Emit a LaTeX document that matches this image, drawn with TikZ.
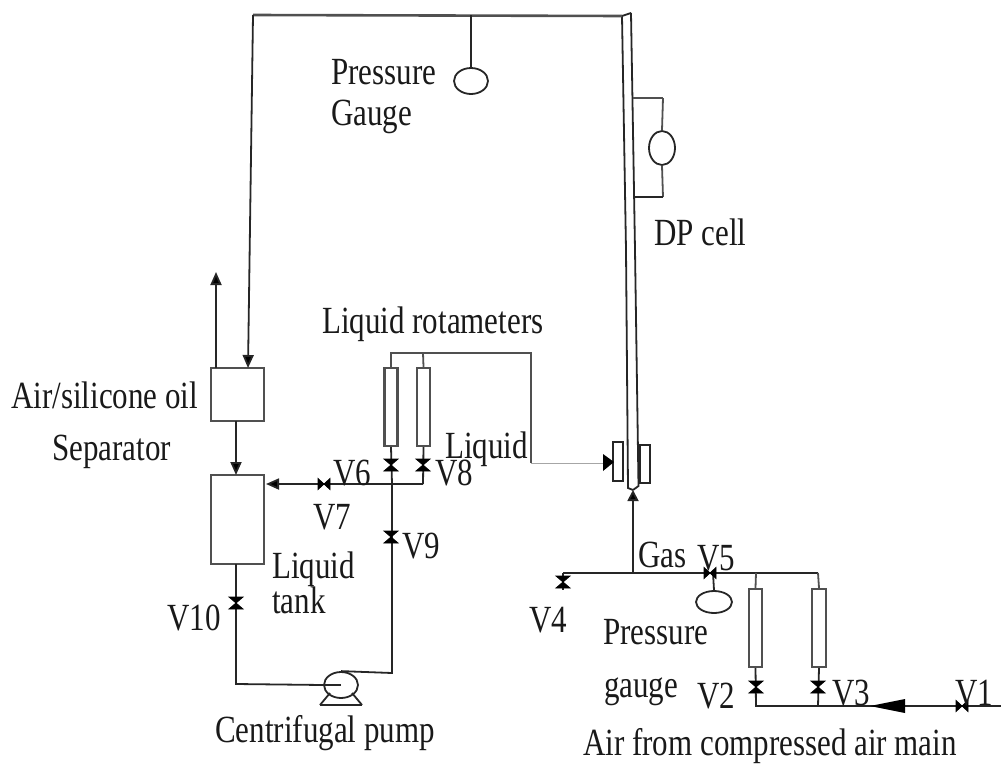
\documentclass[tikz,border=0pt]{standalone}
\usepackage{fontspec}
\setmainfont{Liberation Serif}
\usetikzlibrary{arrows.meta,shapes.geometric}
\definecolor{pipe}{HTML}{262626}
\definecolor{soft}{HTML}{505050}
\tikzset{
 x=1pt,y=-1pt,
 line/.style={draw=pipe,line width=1.8pt},
 softline/.style={draw=soft,line width=1.8pt},
 faint/.style={draw=black!35,line width=1pt},
 flow/.style={line,-{Triangle[length=13pt,width=11pt,fill=black]}},
 box/.style={draw=soft,line width=2.6pt,rectangle,inner sep=0pt},
 meter/.style={draw=soft,line width=2.2pt,rectangle,inner sep=0pt,minimum width=13pt,minimum height=78pt},
 oval/.style={draw=pipe,line width=1.8pt,ellipse,inner sep=0pt},
 lab/.style={font=\fontsize{31}{31}\selectfont,text=black!90,yscale=1.24,transform shape,inner sep=0pt,anchor=base west},
 valve/.style={fill=black,draw=black,line width=.8pt},
 pics/vvalve/.style={code={\path[valve](-7,-6)--(7,-6)--(-7,6)--(7,6)--cycle;}},
 pics/hvalve/.style={code={\path[valve](-6,-5.5)--(6,5.5)--(6,-5.5)--(-6,5.5)--cycle;}}
}
\begin{document}
\begin{tikzpicture}
\useasboundingbox (0,0) rectangle (1001,763);
% equipment
\node[box,minimum width=53pt,minimum height=53pt] (sep) at (237.5,394.5) {};
\node[box,minimum width=53pt,minimum height=89pt] (tank) at (237.5,519.5) {};
\node[meter] (rl1) at (391,407) {};
\node[meter] (rl2) at (423.5,407) {};
\node[meter,minimum width=13pt] (rg1) at (755.5,628) {};
\node[meter,minimum width=14pt] (rg2) at (819,628) {};
\node[oval,minimum width=34pt,minimum height=26pt] (pg1) at (471,81) {};
\node[oval,minimum width=36pt,minimum height=22pt] (pg2) at (714,602) {};
\node[oval,minimum width=26pt,minimum height=34pt] (dp) at (662,148) {};
\node[oval,minimum width=34pt,minimum height=26pt] (pump) at (341,685) {};
\node[box,draw=pipe,line width=1.8pt,minimum width=10pt,minimum height=39pt] (mixl) at (618,461.5) {};
\node[box,draw=pipe,line width=1.8pt,minimum width=10pt,minimum height=38pt] (mixr) at (645,464) {};
% junction coordinates
\coordinate (tl) at (253,15);
\coordinate (tr) at (622,16);
\coordinate (sepin) at (248,368);
\coordinate (vent) at (216,272);
\coordinate (ventb) at (216,368);
\coordinate (sepb) at (236,421);
\coordinate (tanktop) at (236,475);
\coordinate (tankb) at (236,564);
\coordinate (c1) at (236,684);
\coordinate (c2) at (392,673);
\coordinate (j1) at (392,484);
\coordinate (j2) at (423,484);
\coordinate (tankin) at (266,484);
\coordinate (rt1) at (391,353);
\coordinate (rt2) at (423,353);
\coordinate (rt3) at (531,353);
\coordinate (rt4) at (531,463);
\coordinate (mixa) at (614,462);
\coordinate (g0) at (563,573);
\coordinate (g1) at (633,573);
\coordinate (g2) at (756,573);
\coordinate (g3) at (818,573);
\coordinate (gt) at (633,490);
\coordinate (b1) at (756,706);
\coordinate (b2) at (818,706);
\coordinate (b3) at (1001,706);
\coordinate (dpa) at (633,98);
\coordinate (dpb) at (663,98);
\coordinate (dpc) at (634,197);
\coordinate (dpd) at (663,197);
% riser
\draw[line] (tr) -- (626,250) -- (628,488) -- (gt);
\draw[line] (631,13) -- (tr);
\draw[line] (631,13) -- (635,250) -- (638.5,486) -- (gt);
% top pipe
\draw[softline,line width=2.6pt] (tl) -- (tr);
\draw[flow] (tl) -- (sepin);
\draw[line] (471,15) -- (pg1.north);
% dp cell
\draw[softline,line width=2.4pt] (dpa) -- (dpb);
\draw[softline] (dpb) -- (dp.north);
\draw[softline] (dp.south) -- (dpd);
\draw[line] (dpd) -- (dpc);
% separator & tank
\draw[flow] (ventb) -- (vent);
\draw[flow] (sepb) -- (tanktop);
\draw[line] (tankb) -- (c1) -- (pump.west);
\draw[line] (pump.north) -- (c2) -- (j1);
\draw[flow] (j2) -- (tankin);
\draw[line] (rl1.south) -- (j1);
\draw[line] (rl2.south) -- (j2);
\draw[softline] (rl1.north) -- (rt1) -- (rt3) -- (rt4);
\draw[softline] (rl2.north) -- (rt2);
\draw[faint] (rt4) -- (603,463);
\path[fill=black] (mixa) -- (603,454) -- (603,471) -- cycle;
% pump base
\draw[line] (320,705) -- (330,693) (352,693) -- (362,705);
\draw[line,line width=2.8pt] (320,705) -- (362,705);
\draw[line] (341,685) -- (pump.west);
% gas side
\draw[line,line width=2pt] (g0) -- (g3);
\draw[flow,-{Triangle[length=11pt,width=11pt,fill=black]}] (g1) -- (gt);
\draw[line] (713,573) -- (pg2.north);
\draw[softline] (g2) -- (rg1.north);
\draw[softline] (g3) -- (rg2.north);
\draw[line] (rg1.south) -- (b1) -- (b3);
\draw[line] (rg2.south) -- (b2);
\path[fill=black] (870,706) -- (905,699) -- (905,713) -- cycle;
\draw[line] (g0) -- (563,590);
% valves
\pic at (236,603) {vvalve};
\pic at (391,465) {vvalve};
\pic at (423,465) {vvalve};
\pic at (391,537) {vvalve};
\pic at (563,582) {vvalve};
\pic at (756,687) {vvalve};
\pic at (818,687) {vvalve};
\pic at (324,484) {hvalve};
\pic at (710,573) {hvalve};
\pic at (962,706) {hvalve};
% labels
\node[lab] (t1) at (331,84) {Pressure};
\node[lab] (t2) at (331,125) {Gauge};
\node[lab] (t3) at (654,245) {DP cell};
\node[lab] (t4) at (322,333) {Liquid rotameters};
\node[lab] (t5) at (11,408) {Air/silicone oil};
\node[lab] (t6) at (52,460) {Separator};
\node[lab] (t7) at (445,458) {Liquid};
\node[lab] (t8) at (333,485) {V6};
\node[lab] (t9) at (435,485) {V8};
\node[lab] (t10) at (313,529) {V7};
\node[lab] (t11) at (402,558) {V9};
\node[lab] (t12) at (272,578) {Liquid};
\node[lab] (t13) at (272,613) {tank};
\node[lab] (t14) at (167,630) {V10};
\node[lab] (t15) at (638,567) {Gas};
\node[lab] (t16) at (697,570) {V5};
\node[lab] (t17) at (529,632) {V4};
\node[lab] (t18) at (603,644) {Pressure};
\node[lab] (t19) at (604,697) {gauge};
\node[lab] (t20) at (697,708) {V2};
\node[lab] (t21) at (832,705) {V3};
\node[lab] (t22) at (955,705) {V1};
\node[lab] (t23) at (583,755) {Air from compressed air main};
\node[lab] (t24) at (215,742) {Centrifugal pump};
\end{tikzpicture}
\end{document}
